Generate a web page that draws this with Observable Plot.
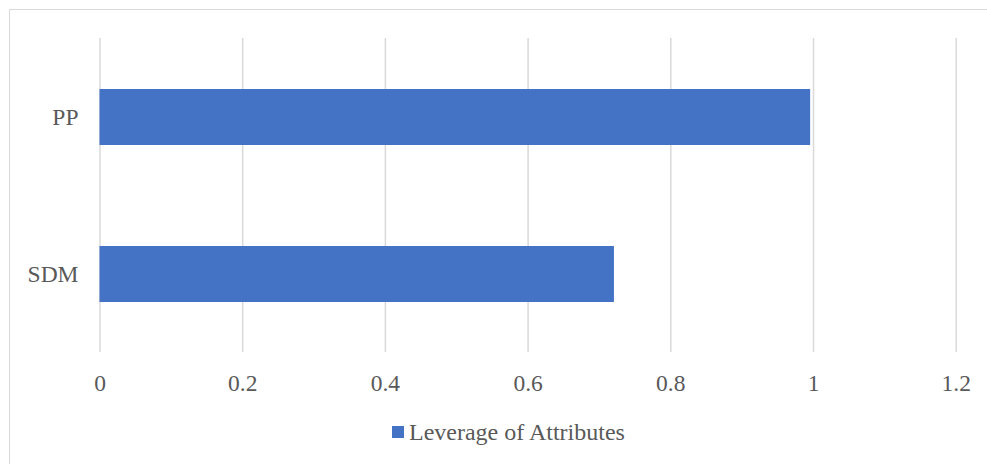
<!DOCTYPE html>
<html><head><meta charset="utf-8">
<script src="https://cdn.jsdelivr.net/npm/d3@7"></script>
<script src="https://cdn.jsdelivr.net/npm/@observablehq/plot@0.6"></script>
<style>
html,body{margin:0;padding:0;background:#fff;overflow:hidden;}
#wrap{position:relative;width:987px;height:464px;overflow:hidden;font-family:"Liberation Serif","Times New Roman",serif;color:#595959;}
#border{position:absolute;left:9px;top:9px;width:1000px;height:480px;border-top:1.5px solid #d9d9d9;border-left:1.5px solid #d9d9d9;box-sizing:border-box;pointer-events:none;}
#chart{position:absolute;left:0;top:0;}
#legend{position:absolute;left:0;top:410px;width:987px;height:54px;}
#legend .sw{position:absolute;left:392px;top:16px;width:12px;height:12px;}
#legend .lab{position:absolute;left:409px;top:9.6px;font-size:24px;line-height:24px;white-space:nowrap;}
</style>
</head><body>
<div id="wrap"><div id="chart"></div><div id="legend"></div><div id="border"></div></div>
<script>
const categories = ["PP", "SDM"];
const values = [0.996, 0.721];
const xTicks = [0, 0.2, 0.4, 0.6, 0.8, 1, 1.2];
const xTickLabels = ["0", "0.2", "0.4", "0.6", "0.8", "1", "1.2"];
const seriesName = "Leverage of Attributes";
const barColor = "#4472C4";

const data = categories.map((c, i) => ({category: c, value: values[i]}));
const fmt = d => xTickLabels[xTicks.indexOf(d)];

const chart = Plot.plot({
  width: 987,
  height: 410,
  marginLeft: 99.5,
  marginRight: 31.3,
  marginTop: 38,
  marginBottom: 58,
  style: {fontFamily: '"Liberation Serif","Times New Roman",serif', fontSize: "23.5px", color: "#595959", background: "transparent", overflow: "visible"},
  x: {domain: [0, 1.2], label: null},
  y: {domain: categories, paddingInner: 0.646, paddingOuter: 0.323, label: null},
  marks: [
    Plot.gridX(xTicks, {stroke: "#d9d9d9", strokeOpacity: 1, strokeWidth: 1.5}),
    Plot.barX(data, {x: "value", y: "category", fill: barColor}),
    Plot.axisX(xTicks, {tickSize: 0, tickPadding: 21.4, tickFormat: fmt, fill: "#595959", fontSize: 23.5, label: null}),
    Plot.axisY({tickSize: 0, tickPadding: 21.5, fill: "#595959", fontSize: 23.5, label: null})
  ]
});
document.getElementById("chart").appendChild(chart);

const legend = document.getElementById("legend");
const sw = document.createElement("div");
sw.className = "sw";
sw.style.background = barColor;
const lab = document.createElement("div");
lab.className = "lab";
lab.textContent = seriesName;
legend.appendChild(sw);
legend.appendChild(lab);
</script>
</body></html>
